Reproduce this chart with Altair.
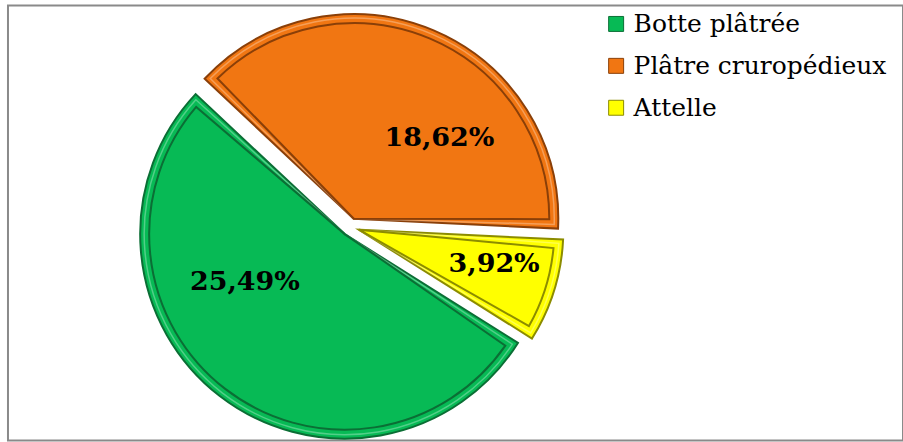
import math
import altair as alt
import pandas as pd

# ---- data ----
categories = ["Botte plâtrée", "Plâtre cruropédieux", "Attelle"]
values = [25.49, 18.62, 3.92]
labels = ["25,49%", "18,62%", "3,92%"]

fill_colors = ["#07BA55", "#F17612", "#FFFF00"]
rim_colors = ["#0B6E35", "#8A3F08", "#8C8C00"]

df = pd.DataFrame({"cat": categories, "v": values, "lab": labels})

# ---- geometry (styling) ----
CX, CY = 343, 222          # pie centre inside the view
R = 205                    # radius
D = 9                      # explosion distance
START = math.radians(313.2)
INSET = 9

base = (
    alt.Chart(df)
    .transform_joinaggregate(total="sum(v)")
    .transform_calculate(o="indexof(['Plâtre cruropédieux','Attelle','Botte plâtrée'], datum.cat)")
    .transform_window(cum="sum(v)", sort=[alt.SortField("o", order="ascending")], frame=[None, 0])
    .transform_calculate(
        t0=f"{START} + 2*PI*(datum.cum - datum.v)/datum.total",
        t1=f"{START} + 2*PI*datum.cum/datum.total",
    )
    .transform_calculate(mid="(datum.t0 + datum.t1)/2")
    .transform_calculate(
        px=f"{CX} + {D}*sin(datum.mid)",
        py=f"{CY} - {D}*cos(datum.mid)",
    )
)

enc = dict(
    theta=alt.Theta("t0:Q", scale=None),
    theta2="t1:Q",
    x=alt.X("px:Q", scale=None, axis=None),
    y=alt.Y("py:Q", scale=None, axis=None),
)

slices = base.mark_arc(radius=R, strokeWidth=2, strokeJoin="miter").encode(
    color=alt.Color(
        "cat:N",
        scale=alt.Scale(domain=categories, range=fill_colors),
        sort=categories,
        legend=alt.Legend(title=None),
    ),
    stroke=alt.Stroke("cat:N", scale=alt.Scale(domain=categories, range=rim_colors), legend=None),
    **enc,
)

highlight = base.mark_arc(
    radius=R - 4, padAngle=8 / (R - 4), fillOpacity=0, stroke="white", strokeOpacity=0.3, strokeWidth=1.5
).encode(**enc)

inset = base.mark_arc(
    radius=R - INSET, padAngle=2 * INSET / (R - INSET), fillOpacity=0, strokeWidth=2, strokeJoin="miter"
).encode(
    stroke=alt.Stroke("cat:N", scale=alt.Scale(domain=categories, range=rim_colors), legend=None),
    **enc,
)


def label_layer(cat, rad, shift_deg):
    s = math.radians(shift_deg)
    return (
        base.transform_filter(alt.datum.cat == cat)
        .transform_calculate(
            lx=f"datum.px + {rad}*sin(datum.mid + {s})",
            ly=f"datum.py - {rad}*cos(datum.mid + {s})",
        )
        .mark_text(font="DejaVu Serif", fontWeight="bold", fontSize=27, color="black",
                   align="center", baseline="middle")
        .encode(
            x=alt.X("lx:Q", scale=None, axis=None),
            y=alt.Y("ly:Q", scale=None, axis=None),
            text="lab:N",
        )
    )


texts = (
    label_layer("Botte plâtrée", 111, 26.7)
    + label_layer("Plâtre cruropédieux", 118, 23.7)
    + label_layer("Attelle", 140, -3.1)
)

chart = (
    alt.layer(slices, highlight, inset, texts)
    .properties(width=897, height=436, padding={"left": 8, "top": 5, "right": 0, "bottom": 0})
    .configure_view(stroke="#8A8A8A", strokeWidth=2)
    .configure_legend(
        orient="none",
        legendX=597,
        legendY=6,
        padding=0,
        symbolType="square",
        symbolSize=225,
        symbolStrokeColor="#333333",
        symbolStrokeWidth=1,
        labelFont="DejaVu Serif",
        labelFontSize=25,
        labelColor="black",
        labelOffset=5,
        labelLimit=0,
        rowPadding=16,
    )
)

chart.save("out.html", embed_options={"renderer": "svg", "actions": False})
